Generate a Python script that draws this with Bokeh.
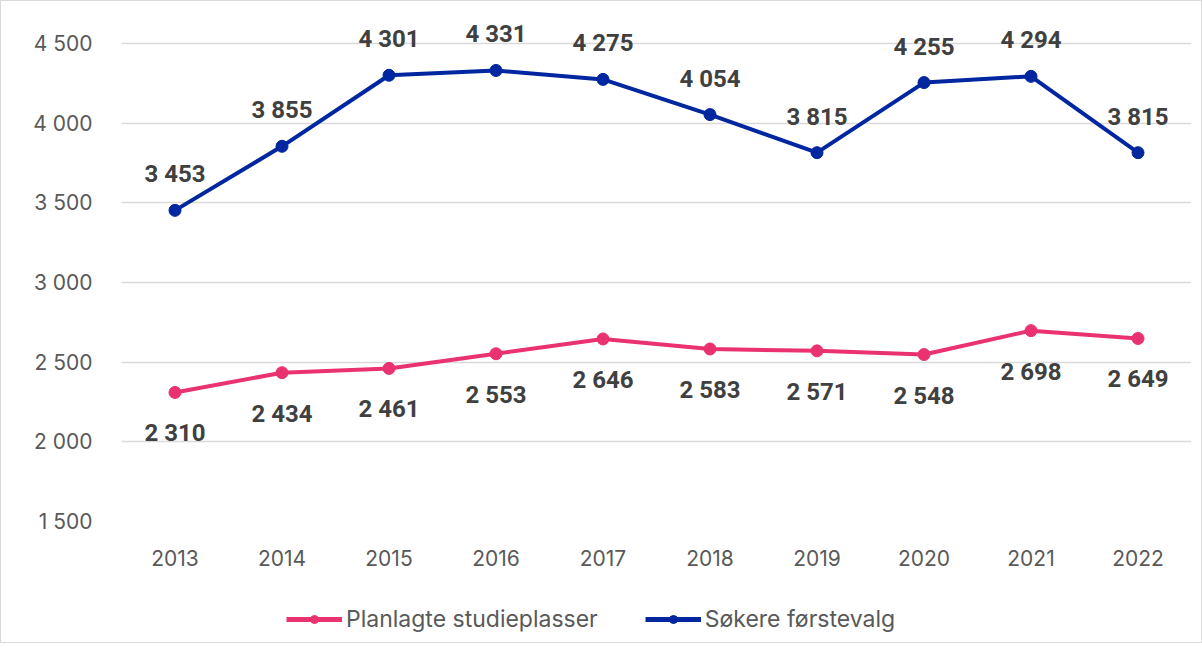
from bokeh.plotting import figure
from bokeh.layouts import column
from bokeh.models import ColumnDataSource, Legend, LegendItem, FixedTicker, LabelSet, Range1d
from bokeh.core.properties import value
from bokeh.embed import file_html
from bokeh.resources import INLINE

years = ["2013", "2014", "2015", "2016", "2017", "2018", "2019", "2020", "2021", "2022"]
planlagte = [2310, 2434, 2461, 2553, 2646, 2583, 2571, 2548, 2698, 2649]
sokere = [3453, 3855, 4301, 4331, 4275, 4054, 3815, 4255, 4294, 3815]
y_ticks = [1500, 2000, 2500, 3000, 3500, 4000, 4500]
series_names = ["Planlagte studieplasser", "Søkere førstevalg"]

PINK = "#E9326F"
BLUE = "#0026A0"

def fmt(v):
    return f"{v:,}".replace(",", " ")

src_p = ColumnDataSource(dict(x=years, y=planlagte, lab=[fmt(v) for v in planlagte]))
src_s = ColumnDataSource(dict(x=years, y=sokere, lab=[fmt(v) for v in sokere]))

p = figure(x_range=years, y_range=(1500, 4676),
           frame_width=1070, frame_height=506,
           output_backend="svg", toolbar_location=None,
           min_border_left=120, min_border_right=10, min_border_top=14, min_border_bottom=6)
p.outline_line_color = None
p.background_fill_color = "white"
p.border_fill_color = "white"

p.yaxis.ticker = FixedTicker(ticks=y_ticks)
p.yaxis.major_label_overrides = {t: fmt(t) for t in y_ticks}
for ax in (p.xaxis[0], p.yaxis[0]):
    ax.axis_line_color = None
    ax.major_tick_line_color = None
    ax.minor_tick_line_color = None
    ax.major_label_text_color = "#595959"
    ax.major_label_text_font = "Inter"
    ax.major_label_text_font_size = "21px"
p.yaxis.major_label_standoff = 23
p.xaxis.major_label_standoff = 22
p.xgrid.grid_line_color = None
p.ygrid.grid_line_color = "#D9D9D9"
p.ygrid.grid_line_width = 1.5

p.line("x", "y", source=src_p, color=PINK, line_width=4)
p.scatter("x", "y", source=src_p, color=PINK, size=12)
p.line("x", "y", source=src_s, color=BLUE, line_width=4)
p.scatter("x", "y", source=src_s, color=BLUE, size=12)

lab_s = LabelSet(x="x", y="y", text="lab", source=src_s, y_offset=22,
                 text_align="center", text_baseline="bottom",
                 text_font=value("Roboto"), text_font_style="bold", text_font_size="24px",
                 text_color="#404040")
lab_p = LabelSet(x="x", y="y", text="lab", source=src_p, y_offset=-27,
                 text_align="center", text_baseline="top",
                 text_font=value("Roboto"), text_font_style="bold", text_font_size="24px",
                 text_color="#404040")
p.add_layout(lab_s)
p.add_layout(lab_p)

# legend strip below the chart (its sample renderers sit outside the visible range)
lf = figure(width=1200, height=74, x_range=Range1d(0, 1), y_range=Range1d(0, 1),
            output_backend="svg", toolbar_location=None,
            min_border=0)
lf.outline_line_color = None
lf.axis.visible = False
lf.grid.visible = False
lf.border_fill_color = "white"
lp = lf.line(x=[5, 6], y=[5, 6], color=PINK, line_width=5)
cp = lf.scatter(x=[5], y=[5], color=PINK, size=13)
ls = lf.line(x=[5, 6], y=[5, 6], color=BLUE, line_width=5)
cs = lf.scatter(x=[5], y=[5], color=BLUE, size=13)

legend = Legend(items=[LegendItem(label=series_names[0], renderers=[lp, cp]),
                       LegendItem(label=series_names[1], renderers=[ls, cs])],
                orientation="horizontal", location=(165, 9),
                label_text_font="Inter", label_text_font_size="23px",
                label_text_color="#595959", border_line_color=None,
                background_fill_alpha=0,
                glyph_width=56, spacing=47, margin=0, padding=6, label_standoff=4)
lf.add_layout(legend, "center")

layout = column(p, lf, spacing=0)
layout.styles = {"border": "1px solid #D9D9D9"}

open("out.html", "w").write(file_html(layout, INLINE))
